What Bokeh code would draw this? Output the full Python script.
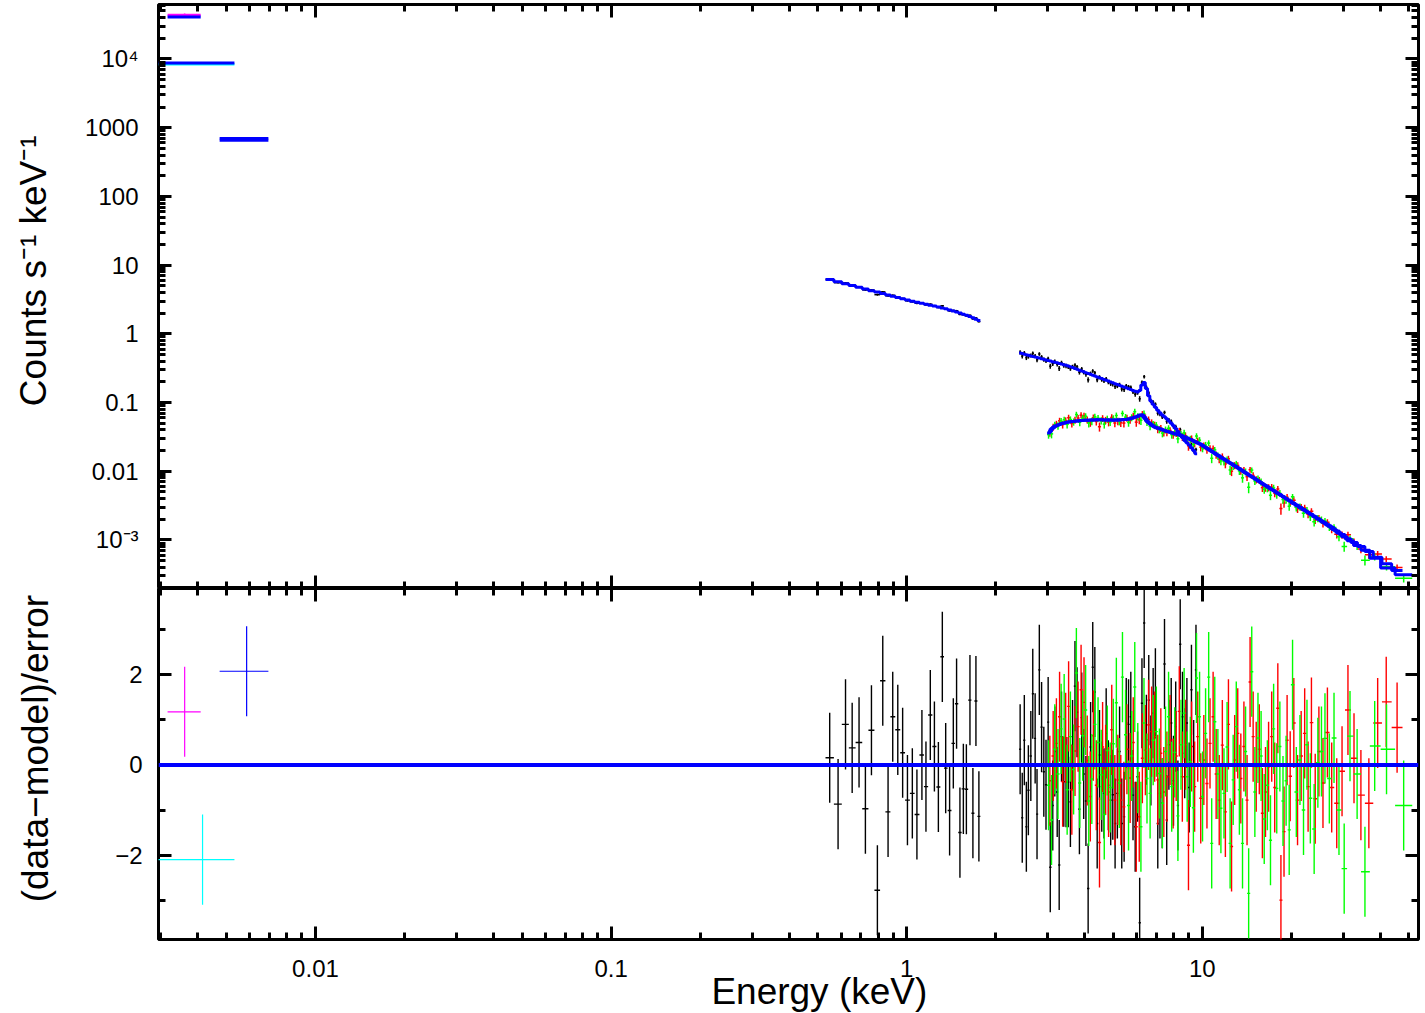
import numpy as np
from bokeh.plotting import figure
from bokeh.layouts import column
from bokeh.models import (LogAxis, LinearAxis, FixedTicker, CustomJSTickFormatter,
                          Range1d, Span)
from bokeh.embed import file_html
from bokeh.resources import INLINE

# ---------------- data ----------------
# optical / UV photometric points
uv_energy = [0.00361, 0.00415, 0.00585]
uv_lo = [0.00316, 0.00290, 0.00474]
uv_hi = [0.00409, 0.00532, 0.00693]
uv_data = [43500, 8400, 700]
uv_model = [40800, 8750, 655]
uv_resid = [1.18, -2.10, 2.08]

# black, soft segment
e_bs = [0.549, 0.586, 0.621, 0.654, 0.690, 0.725, 0.760, 0.796, 0.830, 0.865,
        0.897, 0.933, 0.969, 1.006, 1.045, 1.083, 1.126, 1.162, 1.202, 1.241,
        1.280, 1.320, 1.355, 1.397, 1.438, 1.475, 1.514, 1.555, 1.592, 1.637,
        1.675, 1.715, 1.755]
m_bs = [6.15, 5.70, 5.35, 5.05, 4.75, 4.48, 4.25, 4.05, 3.86, 3.68,
        3.52, 3.37, 3.23, 3.10, 2.98, 2.88, 2.78, 2.69, 2.61, 2.53,
        2.46, 2.38, 2.31, 2.23, 2.15, 2.08, 2.01, 1.93, 1.86, 1.78,
        1.71, 1.63, 1.56]
r_bs = [0.16, -0.87, 0.90, 0.38, 0.50, -0.97, 0.77, -2.78, 1.87, -1.04,
        1.07, 0.78, 0.27, -0.78, -0.63, -1.10, 0.22, -0.48, 1.11, 0.41,
        -0.49, 2.40, -0.07, -1.01, 0.48, 1.36, -1.50, -0.53, -0.54, 1.44,
        -1.07, 1.42, -1.14]

# black, hard segment
e_bh = [2.42, 2.46, 2.50, 2.54, 2.58, 2.63, 2.67, 2.72, 2.76, 2.81,
        2.86, 2.91, 2.96, 3.01, 3.06, 3.12, 3.17, 3.23, 3.28, 3.34,
        3.40, 3.46, 3.52, 3.58, 3.64, 3.71, 3.77, 3.84, 3.91, 3.97,
        4.04, 4.11, 4.19, 4.26, 4.33, 4.41, 4.49, 4.57, 4.65, 4.73,
        4.81, 4.90, 4.98, 5.07, 5.16, 5.25, 5.34, 5.44, 5.53, 5.63,
        5.73, 5.83, 5.93, 6.04, 6.14, 6.25, 6.36, 6.47, 6.59, 6.70,
        6.82, 6.94, 7.07, 7.19, 7.32, 7.45, 7.58, 7.71, 7.85, 7.99,
        8.13, 8.27, 8.42, 8.57, 8.72, 8.87, 9.03, 9.19, 9.35, 9.52]
m_bh = [0.525, 0.515, 0.506, 0.497, 0.488, 0.477, 0.469, 0.459, 0.452, 0.443,
        0.434, 0.425, 0.417, 0.409, 0.402, 0.393, 0.386, 0.378, 0.371, 0.364,
        0.356, 0.350, 0.340, 0.331, 0.322, 0.313, 0.305, 0.296, 0.287, 0.280,
        0.272, 0.265, 0.257, 0.250, 0.243, 0.236, 0.230, 0.223, 0.217, 0.211,
        0.205, 0.199, 0.194, 0.188, 0.183, 0.178, 0.173, 0.168, 0.164, 0.159,
        0.155, 0.150, 0.146, 0.142, 0.150, 0.180, 0.195, 0.160, 0.125, 0.105,
        0.094, 0.085, 0.077, 0.071, 0.066, 0.062, 0.058, 0.054, 0.050, 0.046,
        0.042, 0.038, 0.034, 0.031, 0.028, 0.026, 0.024, 0.022, 0.020, 0.018]
r_bh = [0.35, -1.17, 0.55, -1.37, -0.56, 0.20, 1.58, 0.59, -1.09, 2.11,
        0.84, -0.15, -0.44, 0.95, -2.27, -0.90, 0.30, -0.60, -2.22, 0.63,
        -0.37, -0.38, -0.38, -0.82, 0.44, 1.75, 1.17, -0.98, 1.05, -0.20,
        -0.80, -2.74, 0.40, 2.17, 1.62, -1.30, 0.22, -0.48, -0.63, 0.70,
        -0.45, -0.78, -0.66, -1.30, -0.63, 0.30, -1.30, -1.15, 0.93, 0.90,
        1.07, -0.67, -1.37, -0.26, -3.50, 1.37, 3.15, 0.56, 1.44, 0.10,
        1.15, 1.59, -1.30, -0.63, -0.85, 2.24, -1.22, 0.45, 0.93, -0.35,
        0.85, -0.90, 2.68, 1.07, 0.26, 0.93, -0.50, 1.67, 0.00, 2.11]

# red
e_r = [3.05, 3.13, 3.21, 3.29, 3.37, 3.45, 3.53, 3.62, 3.71, 3.80,
       3.89, 3.98, 4.08, 4.18, 4.28, 4.38, 4.49, 4.60, 4.71, 4.82,
       4.94, 5.06, 5.18, 5.30, 5.43, 5.56, 5.70, 5.84, 5.98, 6.12,
       6.27, 6.42, 6.58, 6.74, 6.90, 7.07, 7.24, 7.41, 7.59, 7.78,
       7.97, 8.16, 8.36, 8.56, 8.77, 8.98, 9.20, 9.42, 9.65, 9.88,
       10.12, 10.37, 10.62, 10.88, 11.14, 11.41, 11.69, 11.97, 12.26, 12.56,
       12.87, 13.18, 13.50, 13.83, 14.17, 14.51, 14.86, 15.22, 15.59, 15.97,
       16.36, 16.76, 17.17, 17.58, 18.01, 18.45, 18.90, 19.36, 19.83,
       20.4, 21.0, 21.6, 22.2, 22.8, 23.4, 24.1, 24.8, 25.6, 26.5,
       27.4, 28.5, 29.7, 31.1, 32.6, 34.4, 36.6, 39.2, 41.9, 45.6]
m_r = [0.038, 0.043, 0.046, 0.048, 0.050, 0.051, 0.052, 0.053, 0.0535, 0.054,
       0.0545, 0.055, 0.0553, 0.0556, 0.0558, 0.056, 0.056, 0.056, 0.0558, 0.0556,
       0.0555, 0.0555, 0.0557, 0.056, 0.0565, 0.057, 0.058, 0.060, 0.062, 0.065,
       0.066, 0.058, 0.051, 0.047, 0.044, 0.0425, 0.041, 0.0395, 0.038, 0.0368,
       0.0357, 0.0348, 0.0338, 0.0325, 0.0312, 0.0298, 0.0284, 0.0271, 0.0258, 0.0246,
       0.0231, 0.0216, 0.0202, 0.0189, 0.0177, 0.0166, 0.0155, 0.0146, 0.01365, 0.0128,
       0.01197, 0.0112, 0.0105, 0.00982, 0.00919, 0.00861, 0.00807, 0.00756, 0.00708, 0.00663,
       0.00621, 0.00581, 0.00544, 0.00510, 0.00478, 0.00447, 0.00419, 0.00392, 0.00368,
       0.00340, 0.00314, 0.00291, 0.00270, 0.00251, 0.00234, 0.00216, 0.00200, 0.00183, 0.00166,
       0.00152, 0.00135, 0.00120, 0.00104, 0.00092, 0.00080, 0.00068, 0.00056, 0.00045, 0.00036]
r_r = [-0.35, 0.20, 0.48, 1.07, -0.37, 0.60, 1.30, -0.55, 0.31, 0.85,
       1.67, 1.39, 0.10, -0.70, 0.65, -0.45, -1.72, 0.40, -0.11, -0.60,
       0.78, -0.78, -0.33, -0.78, -0.93, 0.35, -0.29, 0.50, -1.37, -1.15,
       0.15, 0.33, 0.89, 0.74, 0.63, -0.33, 0.26, -0.60, -0.26, 0.55,
       -0.41, 0.20, 1.19, -0.26, 0.45, -1.78, 0.41, -0.48, 0.63, -0.74,
       0.11, -0.41, 0.48, 1.07, -0.20, -0.78, 0.44, -1.04, 0.90, -1.81,
       0.11, 0.70, -0.30, 0.41, -0.78, 1.84, 0.63, -0.04, 0.35, -1.07,
       -0.60, -0.04, 0.63, -0.50, 1.26, -3.00, -1.48, 0.55, -0.25,
       0.93, -0.78, 0.20, 0.70, -0.48, 0.94, -0.75, 0.30, -0.40, 0.72,
       -0.50, -0.85, -0.14, 1.22, 0.15, -0.67, -0.85, 0.93, 1.40, 0.83]

# green
e_g = [3.02, 3.09, 3.17, 3.25, 3.33, 3.41, 3.49, 3.58, 3.67, 3.75,
       3.85, 3.94, 4.03, 4.13, 4.23, 4.33, 4.44, 4.55, 4.66, 4.77,
       4.88, 5.00, 5.12, 5.24, 5.37, 5.50, 5.63, 5.77, 5.91, 6.05,
       6.20, 6.35, 6.50, 6.66, 6.82, 6.99, 7.16, 7.33, 7.51, 7.69,
       7.88, 8.07, 8.27, 8.47, 8.68, 8.89, 9.11, 9.33, 9.56, 9.79,
       10.02, 10.26, 10.51, 10.76, 11.02, 11.29, 11.56, 11.84, 12.13, 12.42,
       12.72, 13.03, 13.35, 13.68, 14.01, 14.35, 14.70, 15.06, 15.43, 15.81,
       16.20, 16.60, 17.01, 17.43, 17.86, 18.30, 18.75, 19.21, 19.68,
       20.2, 20.8, 21.4, 22.0, 22.6, 23.2, 23.9, 24.6, 25.3, 26.0,
       26.9, 27.9, 29.0, 30.2, 31.6, 33.4, 35.5, 38.3, 42.0, 48.0]
m_g = [0.036, 0.041, 0.045, 0.047, 0.049, 0.050, 0.0515, 0.0525, 0.053, 0.0537,
       0.0542, 0.0547, 0.0551, 0.0554, 0.0556, 0.0558, 0.0559, 0.0559, 0.0558, 0.0556,
       0.0555, 0.0554, 0.0555, 0.0558, 0.0562, 0.0567, 0.0575, 0.059, 0.061, 0.063,
       0.066, 0.062, 0.054, 0.049, 0.0455, 0.043, 0.0415, 0.040, 0.0387, 0.0374,
       0.0362, 0.0352, 0.0343, 0.0331, 0.0318, 0.0305, 0.0290, 0.0277, 0.0264, 0.0251,
       0.0237, 0.0222, 0.0208, 0.0195, 0.0183, 0.0171, 0.0160, 0.0150, 0.01406, 0.01318,
       0.01235, 0.01157, 0.01082, 0.01012, 0.00948, 0.00888, 0.00831, 0.00778, 0.00728, 0.00682,
       0.00638, 0.00597, 0.00558, 0.00522, 0.00488, 0.00457, 0.00428, 0.00401, 0.00375,
       0.00349, 0.00322, 0.00298, 0.00277, 0.00257, 0.00239, 0.00221, 0.00204, 0.00189, 0.00175,
       0.00160, 0.00142, 0.00126, 0.00111, 0.00097, 0.00083, 0.00071, 0.00054, 0.00039, 0.00031]
r_g = [-0.45, -1.22, 0.35, -0.20, 0.80, 1.02, -0.55, 0.63, -0.10, 2.04,
       -0.40, 0.65, 1.22, -0.80, -0.31, 0.90, 0.50, -0.22, -1.10, 0.32,
       -0.50, 0.47, 1.38, -0.40, 1.95, 0.67, -0.90, 0.20, 1.73, -0.07,
       -1.37, 0.93, -0.30, -0.63, 0.55, 0.74, -0.19, -0.85, 0.30, 1.07,
       -0.48, 0.28, -1.13, 0.45, 1.15, -0.26, 0.07, -0.95, 1.93, 1.07,
       -0.70, 0.70, 1.95, -1.74, 0.96, -0.20, -0.96, -0.63, 0.40, -1.74,
       -0.33, 0.85, -0.55, -1.74, 0.30, -2.85, 2.07, -0.60, 0.60, 0.20,
       -1.20, -0.45, -1.67, 0.80, -0.52, 0.41, -0.80, -0.35, -1.44,
       1.78, -0.60, 0.11, -1.00, 0.45, -0.74, -1.42, 0.05, 0.30, 0.59,
       -0.30, 0.60, -1.00, -2.30, 0.64, -0.20, -2.37, 0.42, 0.35, -0.90]

# fractional 1-sigma error of each data set (top panel error bars)
frac_bs, frac_bh, frac_r, frac_g = 0.03, 0.07, 0.12, 0.12

for a, b, c in [(e_bs, m_bs, r_bs), (e_bh, m_bh, r_bh), (e_r, m_r, r_r), (e_g, m_g, r_g)]:
    assert len(a) == len(b) == len(c), (len(a), len(b), len(c))

x_major = [0.01, 0.1, 1, 10]
y_major_top = [1e-3, 1e-2, 1e-1, 1, 10, 100, 1000, 1e4]
y_major_bot = [-2, 0, 2]
y_minor_bot = [-3, -1, 1, 3]

FONT = "Liberation Sans"
BLUE = "#0000ff"
NB = "\u00a0"

# ---------------- figures ----------------
x_range = Range1d(10 ** -2.531, 10 ** 1.7314)

top = figure(x_axis_type="log", y_axis_type="log", x_range=x_range,
             y_range=Range1d(10 ** -3.707, 10 ** 4.793),
             frame_width=1260, frame_height=584,
             min_border_left=158, min_border_right=7, min_border_top=4, min_border_bottom=0,
             toolbar_location=None, output_backend="svg")
bot = figure(x_axis_type="log", x_range=x_range, y_range=Range1d(-3.873, 3.916),
             frame_width=1260, frame_height=351,
             min_border_left=158, min_border_right=7, min_border_top=0, min_border_bottom=60,
             toolbar_location=None, output_backend="svg")

for p in (top, bot):
    p.grid.visible = False
    p.outline_line_color = "black"
    p.outline_line_width = 3
    p.background_fill_color = "white"
    p.border_fill_color = "white"


def x_ticker():
    minor = [k * 10.0 ** d for d in range(-3, 2) for k in range(2, 10)]
    return FixedTicker(ticks=x_major, minor_ticks=minor)


def y_ticker_top():
    minor = [k * 10.0 ** d for d in range(-4, 5) for k in range(2, 10)]
    return FixedTicker(ticks=y_major_top, minor_ticks=minor)


def y_ticker_bot():
    return FixedTicker(ticks=y_major_bot, minor_ticks=y_minor_bot)


def style_axis(ax, labels):
    ax.axis_line_color = None
    ax.major_tick_in = 13
    ax.major_tick_out = 0
    ax.minor_tick_in = 7
    ax.minor_tick_out = 0
    ax.major_tick_line_width = 3
    ax.minor_tick_line_width = 3
    ax.major_tick_line_color = "black"
    ax.minor_tick_line_color = "black"
    if labels:
        ax.major_label_text_font = FONT
        ax.major_label_text_font_size = "24px"
        ax.major_label_text_color = "black"
    else:
        ax.major_label_text_font_size = "1px"
        ax.major_label_text_alpha = 0
        ax.major_label_standoff = 0


def style_title(ax, text, standoff):
    ax.axis_label = text
    ax.axis_label_text_font = FONT
    ax.axis_label_text_font_size = "37px"
    ax.axis_label_text_font_style = "normal"
    ax.axis_label_text_color = "black"
    ax.axis_label_standoff = standoff


top_fmt = CustomJSTickFormatter(code="""
const e = Math.round(Math.log10(tick));
const m = {"4": "10\u2074", "3": "1000", "2": "100", "1": "10", "0": "1",
           "-1": "0.1", "-2": "0.01", "-3": "10\u207b\u00b3"};
return m[String(e)] || "";
""")
x_fmt = CustomJSTickFormatter(code="""
const e = Math.round(Math.log10(tick));
const m = {"-2": "0.01", "-1": "0.1", "0": "1", "1": "10"};
return m[String(e)] || "";
""")
bot_fmt = CustomJSTickFormatter(code="""
return tick < 0 ? "\u2212" + String(Math.abs(tick)) : String(tick);
""")

# top panel axes
ax = top.xaxis[0]
ax.ticker = x_ticker()
style_axis(ax, False)
ax = top.yaxis[0]
ax.ticker = y_ticker_top()
ax.formatter = top_fmt
style_axis(ax, True)
ax.major_label_standoff = 20
style_title(ax, NB * 5 + "Counts s\u207b\u00b9 keV\u207b\u00b9", 28)
a2 = LogAxis(ticker=x_ticker())
style_axis(a2, False)
top.add_layout(a2, "above")
a3 = LogAxis(ticker=y_ticker_top())
style_axis(a3, False)
top.add_layout(a3, "right")

# bottom panel axes
ax = bot.xaxis[0]
ax.ticker = x_ticker()
ax.formatter = x_fmt
style_axis(ax, True)
ax.major_label_standoff = 20
style_title(ax, NB * 6 + "Energy (keV)", -9)
ax = bot.yaxis[0]
ax.ticker = y_ticker_bot()
ax.formatter = bot_fmt
style_axis(ax, True)
ax.major_label_standoff = 16
style_title(ax, NB * 3 + "(data\u2212model)/error", 56)
b2 = LogAxis(ticker=x_ticker())
style_axis(b2, False)
bot.add_layout(b2, "above")
b3 = LinearAxis(ticker=y_ticker_bot())
style_axis(b3, False)
bot.add_layout(b3, "right")


# ---------------- drawing ----------------
def bin_edges(e):
    le = np.log10(np.asarray(e, float))
    mid = 0.5 * (le[1:] + le[:-1])
    lo = np.r_[2 * le[0] - mid[0], mid]
    hi = np.r_[mid, 2 * le[-1] - mid[-1]]
    return 10 ** lo, 10 ** hi


models = []


def draw_group(e, model, resid, frac, color):
    e = np.asarray(e, float)
    m = np.asarray(model, float)
    r = np.asarray(resid, float)
    lo, hi = bin_edges(e)
    sig = m * frac
    d = m + r * sig
    top.segment(x0=lo, x1=hi, y0=d, y1=d, line_color=color, line_width=1.5)
    top.segment(x0=e, x1=e, y0=d - sig, y1=d + sig, line_color=color, line_width=1.5)
    bot.segment(x0=e, x1=e, y0=r - 1, y1=r + 1, line_color=color, line_width=1.4)
    bot.segment(x0=lo, x1=hi, y0=r, y1=r, line_color=color, line_width=1.4)
    models.append((lo, hi, m))


draw_group(e_bs, m_bs, r_bs, frac_bs, "#000000")
draw_group(e_bh, m_bh, r_bh, frac_bh, "#000000")
draw_group(e_r, m_r, r_r, frac_r, "#ff0000")
draw_group(e_g, m_g, r_g, frac_g, "#00ff00")

uv_colors = ["#ff00ff", "#00ffff", "#0000ff"]
for i in range(3):
    c = uv_colors[i]
    d = uv_data[i]
    mm = uv_model[i]
    s = abs(d - mm) / abs(uv_resid[i])
    top.segment(x0=[uv_lo[i]], x1=[uv_hi[i]], y0=[d], y1=[d], line_color=c, line_width=2.5)
    top.segment(x0=[uv_energy[i]], x1=[uv_energy[i]], y0=[d - s], y1=[d + s], line_color=c, line_width=1.5)
    bot.segment(x0=[uv_energy[i]], x1=[uv_energy[i]], y0=[uv_resid[i] - 1], y1=[uv_resid[i] + 1],
                line_color=c, line_width=1.2)
    bot.segment(x0=[uv_lo[i]], x1=[uv_hi[i]], y0=[uv_resid[i]], y1=[uv_resid[i]],
                line_color=c, line_width=1.2)
    models.append((np.array([uv_lo[i]]), np.array([uv_hi[i]]), np.array([mm], float)))

for lo, hi, m in models:
    xs = np.column_stack([lo, hi]).ravel()
    ys = np.column_stack([m, m]).ravel()
    top.line(xs, ys, line_color=BLUE, line_width=3)

bot.add_layout(Span(location=0, dimension="width", line_color=BLUE, line_width=4))

layout = column(top, bot, spacing=0)
open("out.html", "w").write(file_html(layout, INLINE, title="spectrum"))
